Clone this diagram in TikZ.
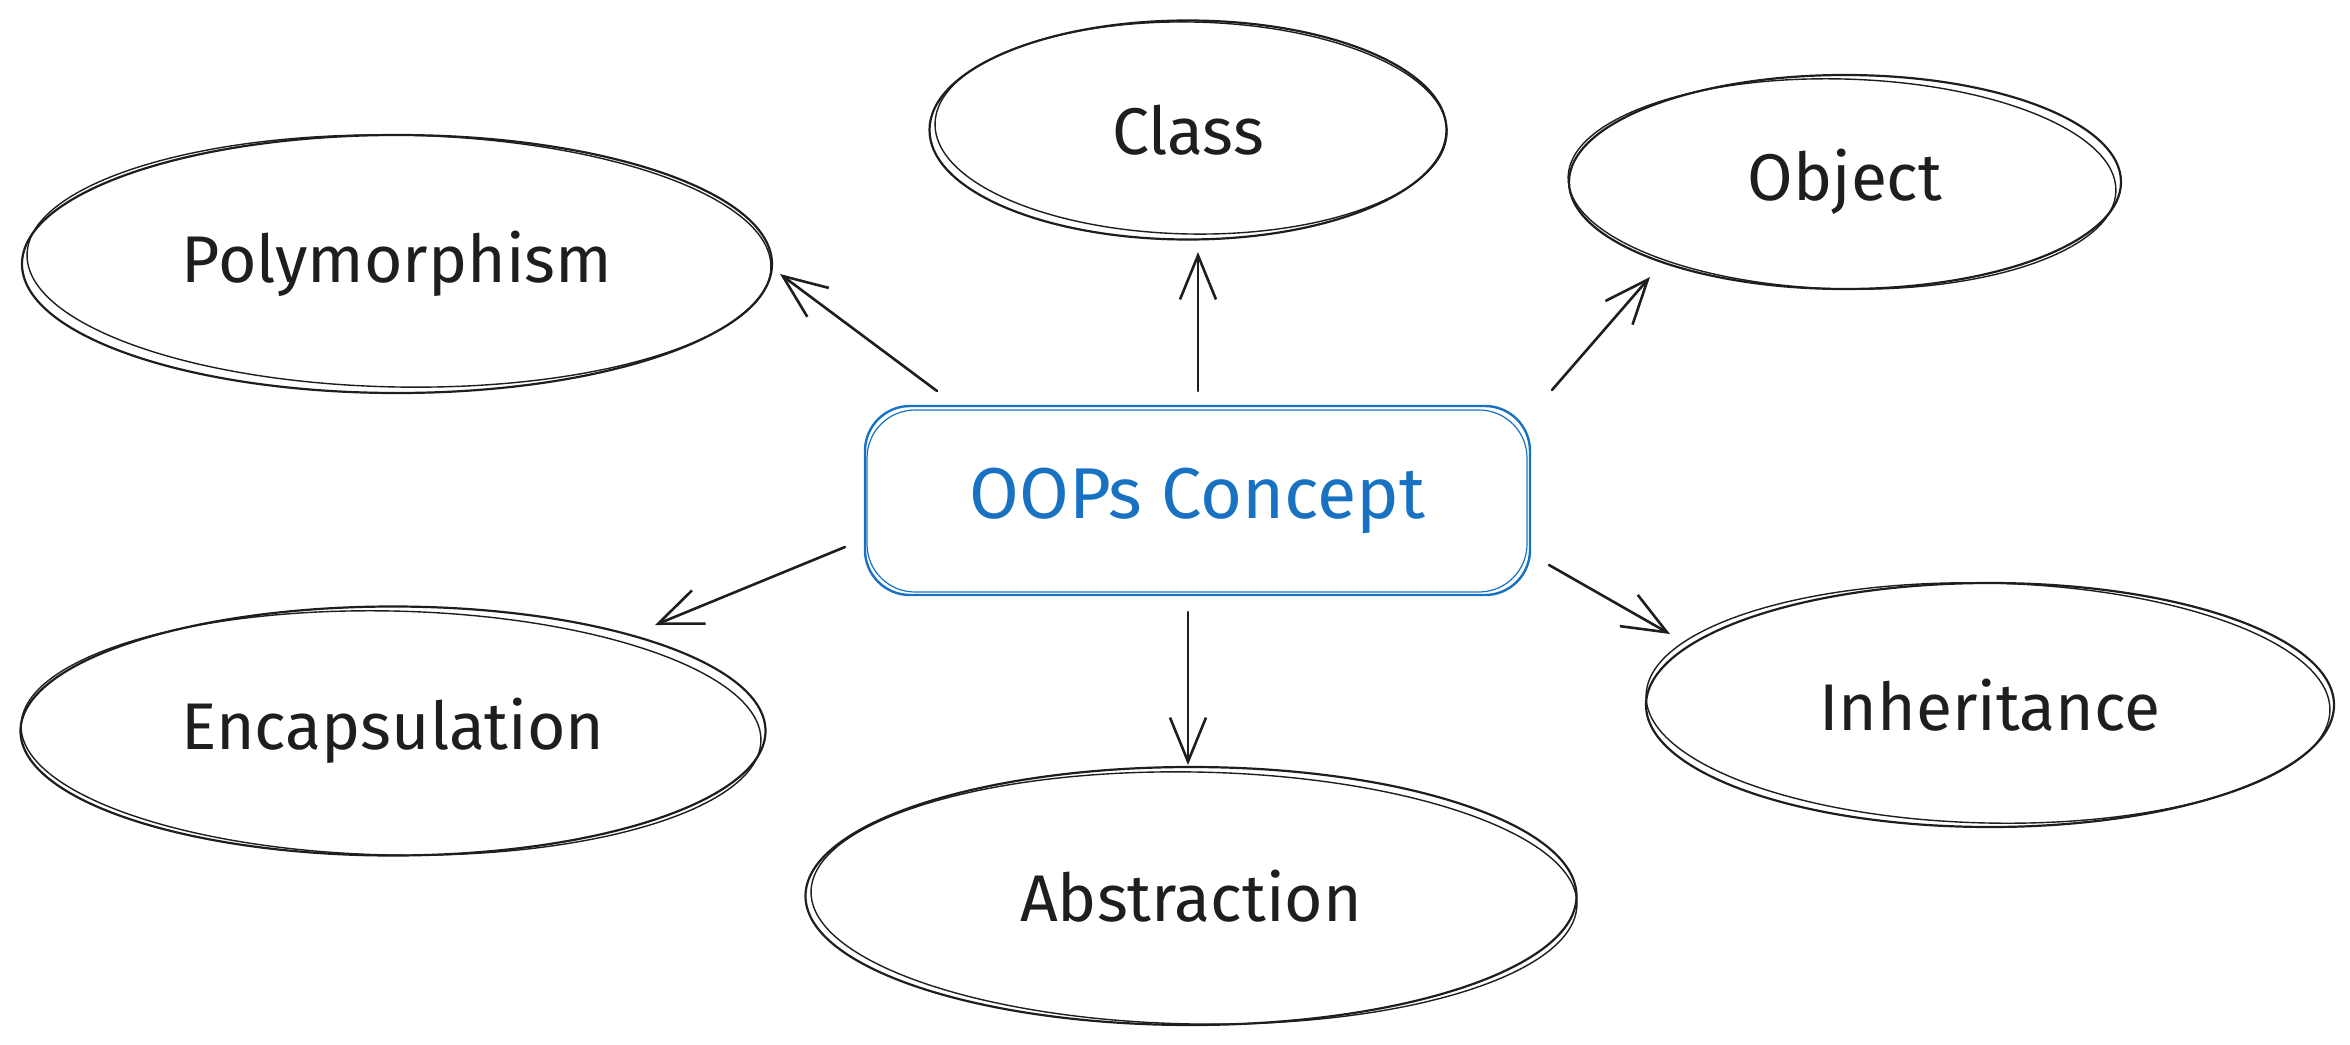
\documentclass[tikz,border=0pt]{standalone}
\usepackage{fontspec}
\setmainfont{Fira Sans}
\usetikzlibrary{shapes.geometric,arrows.meta}
\definecolor{ink}{HTML}{1E1E1E}
\definecolor{blueink}{HTML}{1971C2}
\tikzset{
  concept/.style={ellipse, draw=ink, line width=2.2pt, inner sep=0pt, text=ink,
    font=\fontsize{66}{70}\selectfont},
  sketch/.style={draw=ink, line width=1.4pt},
  hub/.style={rectangle, rounded corners=45pt, draw=blueink, line width=2.4pt,
    minimum width=665pt, minimum height=189pt, text=blueink,
    font=\fontsize{72}{76}\selectfont},
  link/.style={draw=ink, line width=2.6pt, line cap=round,
    -{Straight Barb[length=44pt,width=36pt,line width=2.6pt]}}
}
\newcommand{\sketchring}[5]{%
  \draw[sketch] ([shift={(#2)}]#1.center) ellipse [x radius=#3, y radius=#4, rotate=#5];}
\begin{document}
\begin{tikzpicture}[x=1pt,y=-1pt]
\useasboundingbox[fill=white] (0,0) rectangle (2350,1044);

% hub
\node[hub] (hub) at (1197.5,500.5) {OOPs Concept};
\draw[draw=blueink, line width=1.2pt, rounded corners=48pt]
  (867,410) rectangle (1527,592);

% concepts
\node[concept, minimum width=517pt, minimum height=219pt] (class) at (1188,130) {Class};
\sketchring{class}{3,-2}{256}{106}{-1}
\node[concept, minimum width=552pt, minimum height=214pt] (object) at (1845,182) {Object};
\sketchring{object}{-3,2}{274}{105}{-1.5}
\node[concept, minimum width=750pt, minimum height=258pt] (poly) at (397,264) {Polymorphism};
\sketchring{poly}{2,-3}{372}{126}{-1}
\node[concept, minimum width=745pt, minimum height=249pt] (encap) at (393,731) {Encapsulation};
\sketchring{encap}{-2,2}{370}{122}{-1.2}
\node[concept, minimum width=771pt, minimum height=258pt] (abs) at (1191,896) {Abstraction};
\sketchring{abs}{3,2}{383}{126}{-1}
\node[concept, minimum width=688pt, minimum height=244pt] (inh) at (1990,705) {Inheritance};
\sketchring{inh}{-2,-2}{342}{120}{-1.3}

% arrow ends
\coordinate (sPoly) at (937,391);   \coordinate (ePoly) at (780,274);
\coordinate (sClass) at (1198,391); \coordinate (eClass) at (1198,252);
\coordinate (sObj) at (1552,390);   \coordinate (eObj) at (1650,277);
\coordinate (sEnc) at (845,547);    \coordinate (eEnc) at (655,625);
\coordinate (sAbs) at (1188,612);   \coordinate (eAbs) at (1188,765);
\coordinate (sInh) at (1549,565);   \coordinate (eInh) at (1670,634);

\draw[link] (sPoly) -- (ePoly);
\draw[link] (sClass) -- (eClass);
\draw[link] (sObj) -- (eObj);
\draw[link] (sEnc) -- (eEnc);
\draw[link] (sAbs) -- (eAbs);
\draw[link] (sInh) -- (eInh);
\end{tikzpicture}
\end{document}
